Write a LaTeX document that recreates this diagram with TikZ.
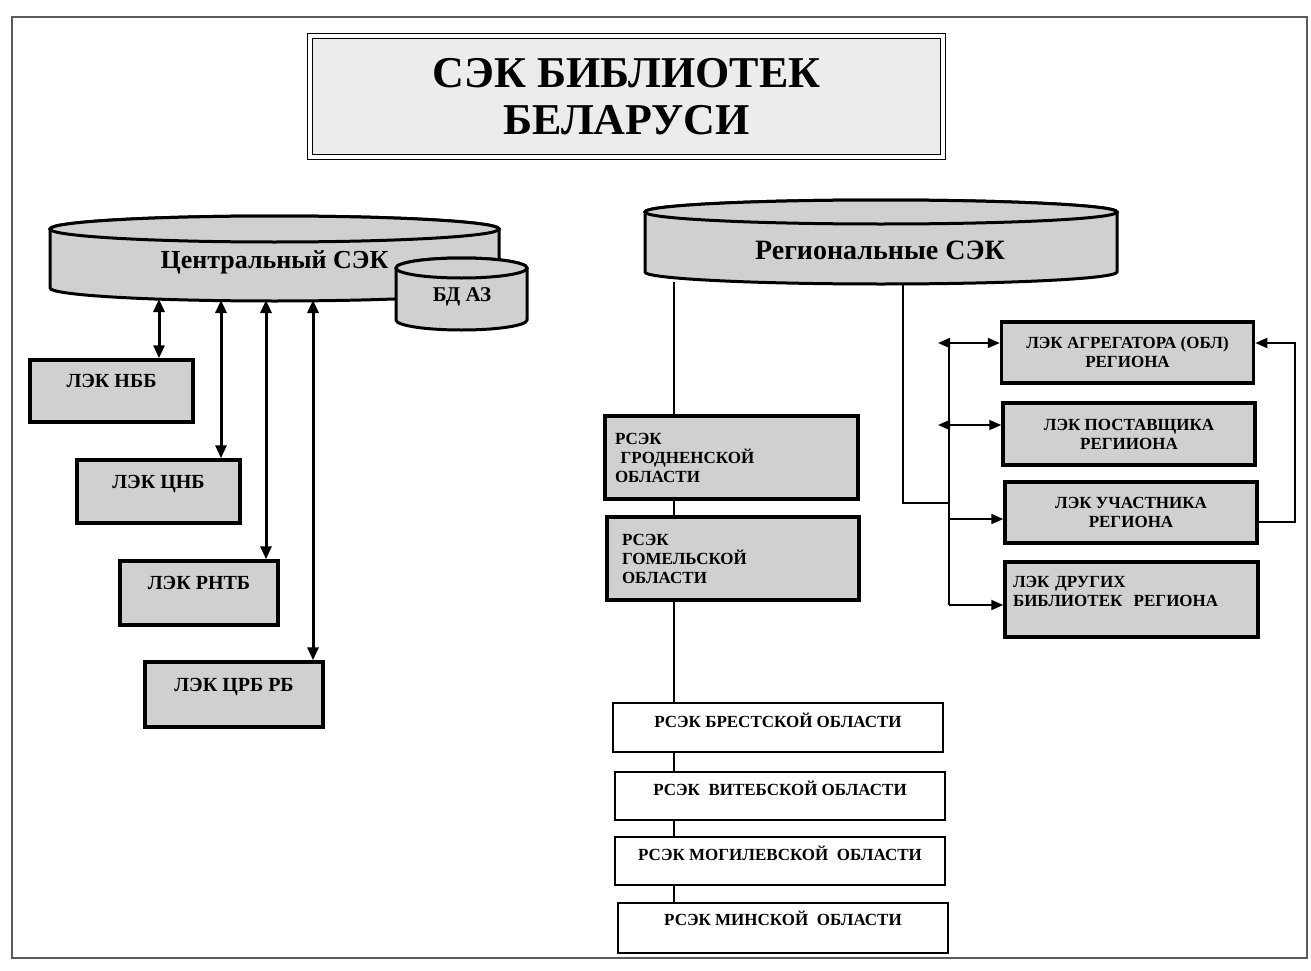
\documentclass[tikz,border=0pt]{standalone}
\usepackage{fontspec}
\setmainfont{Liberation Serif}
\usetikzlibrary{arrows.meta,calc}

\definecolor{sekgray}{RGB}{208,208,208}
\definecolor{titlegray}{RGB}{236,236,236}
\definecolor{framegray}{RGB}{90,90,90}

% drum: centre x, top y, bottom y, x radius, y radius
\newcommand{\sekdrum}[5]{%
  \filldraw[drum] (#1-#4,#2) -- (#1-#4,#3)
    arc[start angle=180,end angle=360,x radius=#4pt,y radius=#5pt]
    -- (#1+#4,#2)
    arc[start angle=0,end angle=180,x radius=#4pt,y radius=#5pt] -- cycle;
  \draw[drum] (#1,#2) ellipse[x radius=#4pt,y radius=#5pt];}

\tikzset{
  drum/.style={line width=3pt, fill=sekgray},
  lek/.style={draw, line width=3.5pt, fill=sekgray, inner sep=0pt,
    font=\fontsize{20}{23}\selectfont\bfseries, text height=13.2pt, text depth=20pt},
  lekr/.style={draw, line width=3.5pt, fill=sekgray, inner sep=0pt, minimum width=252pt,
    font=\fontsize{17}{19}\selectfont\bfseries, align=center},
  rsek/.style={draw, line width=2pt, fill=white, inner sep=0pt, minimum width=330pt,
    minimum height=49pt, font=\fontsize{17}{19}\selectfont\bfseries,
    text height=11.3pt, text depth=12pt},
  dbl/.style={{Triangle[length=13pt,width=11pt]}-{Triangle[length=13pt,width=11pt]}, line width=3pt},
  lnk/.style={line width=1.8pt},
  twoway/.style={{Triangle[length=12pt,width=10pt]}-{Triangle[length=12pt,width=10pt]}, line width=1.8pt},
  arr/.style={-{Triangle[length=12pt,width=10pt]}, line width=1.8pt}
}

\begin{document}
\begin{tikzpicture}[x=1pt,y=-1pt]
\fill[white] (0,0) rectangle (1311,971);
\useasboundingbox (0,0) rectangle (1311,971);
\draw[framegray, line width=1.5pt] (12,17) rectangle (1307,958);

% title
\node[draw, line width=1.5pt, double, double distance=3.5pt, fill=titlegray,
  minimum width=633pt, minimum height=121pt, align=center,
  font=\fontsize{44}{47}\selectfont\bfseries] (title) at (626.5,96.5) {СЭК БИБЛИОТЕК\\БЕЛАРУСИ};

% central
\sekdrum{274.5}{229}{288}{224.5}{13}
\node[font=\fontsize{26}{30}\selectfont\bfseries] (central) at (274.5,262) {Центральный СЭК};
\sekdrum{461.5}{268}{320}{65.5}{10}
\node[font=\fontsize{21}{24}\selectfont\bfseries] (bdaz) at (462,297) {БД АЗ};

\node[lek, minimum width=163pt, minimum height=62pt] (nbb) at (111.5,391) {ЛЭК НББ};
\node[lek, minimum width=163pt, minimum height=63pt] (cnb) at (158.5,491.5) {ЛЭК ЦНБ};
\node[lek, minimum width=158pt, minimum height=64pt] (rntb) at (199,593) {ЛЭК РНТБ};
\node[lek, minimum width=178pt, minimum height=65pt] (crb) at (234,694.5) {ЛЭК ЦРБ РБ};

\coordinate (c1) at (159,299);
\coordinate (c2) at (221,300);
\coordinate (c3) at (266,300);
\coordinate (c4) at (313,300);
\draw[dbl] (c1) -- (c1 |- nbb.north);
\draw[dbl] (c2) -- (c2 |- cnb.north);
\draw[dbl] (c3) -- (c3 |- rntb.north);
\draw[dbl] (c4) -- (c4 |- crb.north);

% regional
\sekdrum{881}{212}{272}{236}{12}
\node[font=\fontsize{28}{32}\selectfont\bfseries] (regional) at (880,250) {Региональные СЭК};

\node[lekr, minimum width=253pt, minimum height=83pt, align=left, text width=233pt] (grod) at (731.5,457.5) {РСЭК\\\ ГРОДНЕНСКОЙ\\ОБЛАСТИ};
\node[lekr, minimum width=252pt, minimum height=83pt, align=left, text width=222pt] (gom) at (733,558.5) {РСЭК\\ГОМЕЛЬСКОЙ\\ОБЛАСТИ};

\node[rsek] (brest) at (778,727.5) {РСЭК БРЕСТСКОЙ ОБЛАСТИ};
\node[rsek, minimum height=48pt] (vit) at (780,796) {РСЭК\ \ ВИТЕБСКОЙ ОБЛАСТИ};
\node[rsek, minimum height=48pt] (mog) at (780,861) {РСЭК МОГИЛЕВСКОЙ\ \ ОБЛАСТИ};
\node[rsek, minimum height=50pt, text depth=16pt] (min) at (783,928) {РСЭК МИНСКОЙ\ \ ОБЛАСТИ};

\coordinate (rl) at (674,282);
\draw[lnk] (rl) -- (rl |- grod.north);
\foreach \a/\b in {grod/gom, gom/brest, brest/vit, vit/mog, mog/min}
  \draw[lnk] (rl |- \a.south) -- (rl |- \b.north);

\node[lekr, minimum height=61pt] (agr) at (1127.5,352.5) {ЛЭК АГРЕГАТОРА (ОБЛ)\\РЕГИОНА};
\node[lekr, minimum height=62pt] (post) at (1129,434) {ЛЭК ПОСТАВЩИКА\\РЕГИИОНА};
\node[lekr, minimum height=61pt] (uch) at (1131,512.5) {ЛЭК УЧАСТНИКА\\РЕГИОНА};
\node[lekr, minimum width=253pt, minimum height=75pt, align=left, text width=237pt, text depth=36pt] (dr) at (1131.5,599.5) {ЛЭК ДРУГИХ\\БИБЛИОТЕК\ \ РЕГИОНА};

\coordinate (rr) at (903,284);
\coordinate (sj) at (949,503);
\coordinate (lp) at (1295,0);
\draw[lnk] (rr) |- (sj);
\draw[lnk] ($(agr.west -| sj)+(0,-9.5)$) -- ($(dr.west -| sj)+(0,5.5)$);
\draw[twoway] ($(agr.west -| sj)+(-11,-9.5)$) -- ($(agr.west)+(0,-9.5)$);
\draw[twoway] ($(post.west -| sj)+(-11,-9)$) -- ($(post.west)+(0,-9)$);
\draw[arr] ($(uch.west -| sj)+(0,6.5)$) -- ($(uch.west)+(0,6.5)$);
\draw[arr] ($(dr.west -| sj)+(0,5.5)$) -- ($(dr.west)+(0,5.5)$);
\draw[arr] ($(uch.east)+(0,9.5)$) -| ($(lp |- agr.east)+(0,-9.5)$) -- ($(agr.east)+(0,-9.5)$);
\end{tikzpicture}
\end{document}
